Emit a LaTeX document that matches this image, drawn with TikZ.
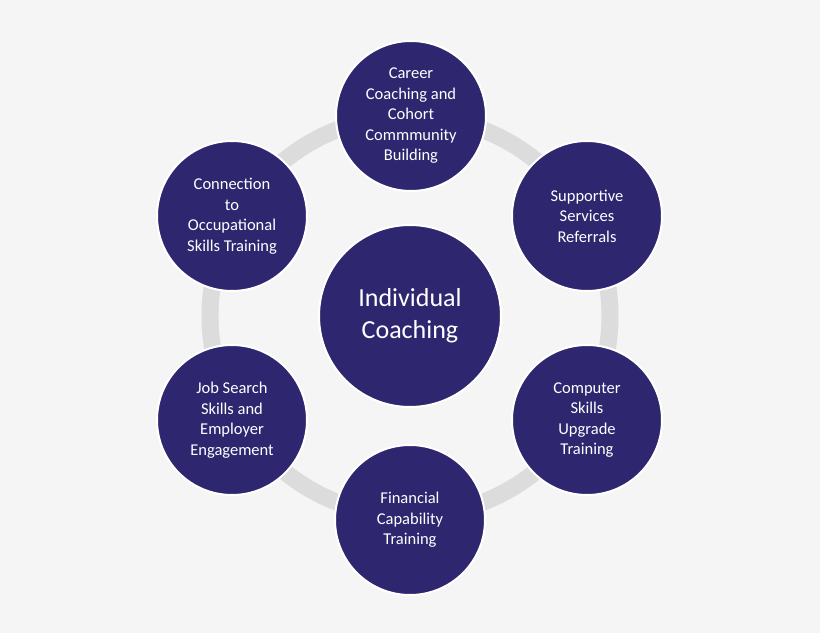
\documentclass[tikz,border=0pt]{standalone}
\usepackage{fontspec}
\setmainfont{Carlito}
\definecolor{navy}{HTML}{2E2770}
\definecolor{ringgray}{HTML}{DCDCDC}
\definecolor{bggray}{HTML}{F5F5F5}
\tikzset{
    topic/.style={circle, fill=navy, draw=white, line width=2pt, minimum size=150pt,
        text=white, align=center, font=\fontsize{16.5}{20.5}\selectfont, inner sep=0pt},
    hub/.style={circle, fill=navy, draw=white, line width=2pt, minimum size=182pt,
        text=white, align=center, font=\fontsize{26}{32}\selectfont}
}
\begin{document}
\begin{tikzpicture}[x=1pt, y=1pt]
    % Background
    \fill[bggray] (0,0) rectangle (820,633);
    \useasboundingbox (0,0) rectangle (820,633);

    % Ring
    \draw[ringgray, line width=17pt] (410,317) circle (200);

    % Centre
    \node[hub] (coach) at (410,317) {Individual\\Coaching};

    % Surrounding topics
    \node[topic] (career) at (411,517) {Career\\Coaching and\\Cohort\\Commmunity\\Building};
    \node[topic] (support) at (587,417) {Supportive\\Services\\Referrals};
    \node[topic] (computer) at (587,213) {Computer\\Skills\\Upgrade\\Training};
    \node[topic] (finance) at (410,113) {Financial\\Capability\\Training};
    \node[topic] (jobs) at (232,213) {Job Search\\Skills and\\Employer\\Engagement};
    \node[topic] (occup) at (232,417) {Connection\\to\\Occupational\\Skills Training};
\end{tikzpicture}
\end{document}
